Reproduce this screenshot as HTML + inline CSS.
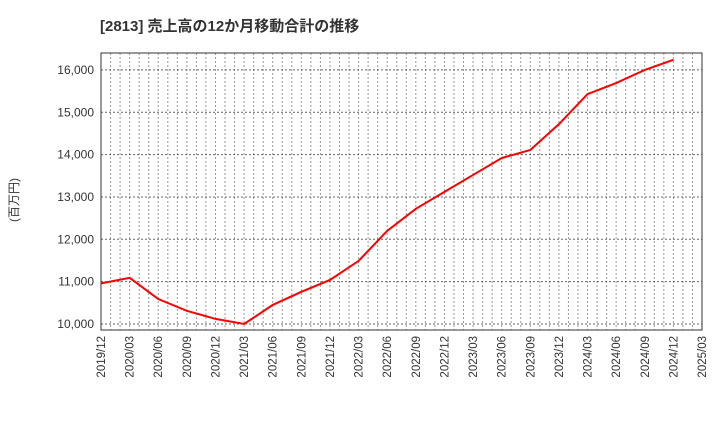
<!DOCTYPE html>
<html><head><meta charset="utf-8"><style>
body{margin:0;background:#fff;width:720px;height:440px;overflow:hidden}
text{font-family:"Liberation Sans","Noto Sans CJK JP",sans-serif}
</style></head><body>
<svg id="c" width="720" height="440" xmlns="http://www.w3.org/2000/svg">
<text x="100" y="31" font-size="15" font-weight="bold" fill="#333">[2813]  売上高の12か月移動合計の推移</text>
<text transform="translate(18,200) rotate(-90)" text-anchor="middle" font-size="12" fill="#333">(百万円)</text>
<g id="grid"></g><g id="ticks"></g><g id="series"></g>
<rect x="101" y="53" width="601" height="277" fill="none" stroke="#333" stroke-width="1"/>
</svg>
<script>
const categories=["2019/12","2020/03","2020/06","2020/09","2020/12","2021/03","2021/06","2021/09","2021/12","2022/03","2022/06","2022/09","2022/12","2023/03","2023/06","2023/09","2023/12","2024/03","2024/06","2024/09","2024/12","2025/03"];
const revenue=[10960,11090,10590,10310,10120,10000,10450,10760,11040,11490,12200,12720,13120,13520,13920,14110,14720,15430,15690,16000,16240];
const yTicks=[10000,11000,12000,13000,14000,15000,16000];
const yTickLabels=["10,000","11,000","12,000","13,000","14,000","15,000","16,000"];
const X0=101,X1=702,Y0=330,Y1=53,YMIN=9858,YMAX=16400;
const xs=i=>X0+(X1-X0)*i/(categories.length-1);
const ys=v=>Y0-(v-YMIN)/(YMAX-YMIN)*(Y0-Y1);
const NS="http://www.w3.org/2000/svg";
function mk(t,a,p){const e=document.createElementNS(NS,t);for(const k in a)e.setAttribute(k,a[k]);p.appendChild(e);return e;}
const grid=document.getElementById('grid'),ticks=document.getElementById('ticks'),series=document.getElementById('series');
const months=(categories.length-1)*3;
for(let m=1;m<months;m++){const x=X0+(X1-X0)*m/months;
 const l=mk('line',{x1:x,x2:x,y1:Y1,y2:Y0,stroke:'#999','stroke-dasharray':'2,2','stroke-width':1},grid);
 
 }
yTicks.forEach((v,i)=>{const y=ys(v);
 const l=mk('line',{x1:X0,x2:X1,y1:y,y2:y,stroke:'#666','stroke-dasharray':'2,2','stroke-width':1},grid);
 
 
 const t=mk('text',{x:94,y:y+4,'text-anchor':'end','font-size':12,fill:'#333'},ticks);t.textContent=yTickLabels[i];
 
 });
categories.forEach((c,i)=>{const x=xs(i);
 const t=mk('text',{transform:`translate(${x+4},336) rotate(-90)`,'text-anchor':'end','font-size':11.5,fill:'#333'},ticks);t.textContent=c;
 
 });
const p=mk('polyline',{points:revenue.map((v,i)=>xs(i)+','+ys(v)).join(' '),fill:'none',stroke:'#f00','stroke-width':2},series);


</script>
</body></html>
